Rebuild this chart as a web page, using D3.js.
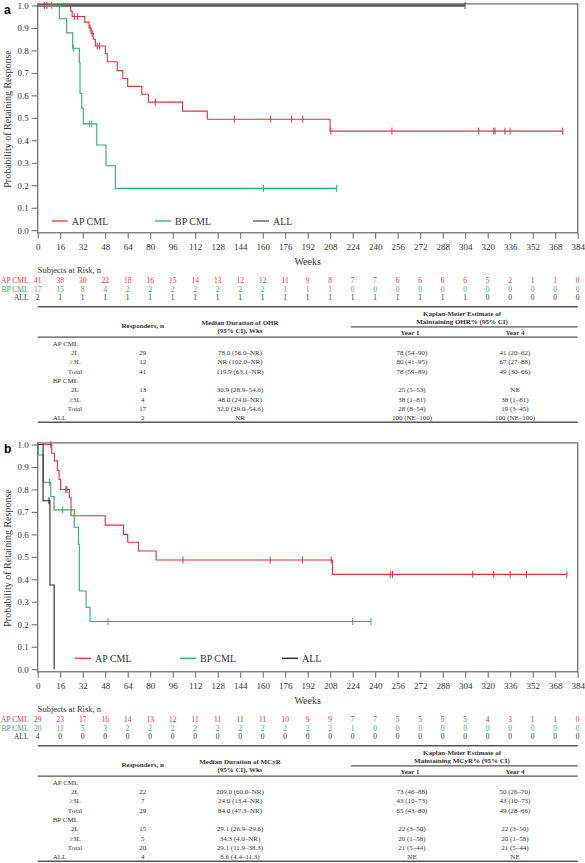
<!DOCTYPE html>
<html><head><meta charset="utf-8">
<script src="https://cdn.jsdelivr.net/npm/d3@7"></script>
<style>
html,body{margin:0;padding:0;background:#fff;}
svg{display:block;}
text{font-family:"Liberation Serif","Times New Roman",serif;}
</style></head><body>
<svg id="chart" width="585" height="863"></svg>
<script>
// ---------- shared ticks / names ----------
const weekTicks = [0,16,32,48,64,80,96,112,128,144,160,176,192,208,224,240,256,272,288,304,320,336,352,368,384];
const probTicks = [0,0.1,0.2,0.3,0.4,0.5,0.6,0.7,0.8,0.9,1.0];
const seriesNames = ["AP CML","BP CML","ALL"];
const tableRowLabels = ["AP CML","2L","\u22653L","Total","BP CML","2L","\u22653L","Total","ALL"];

// ---------- panel a (OHR) curves ----------
const aAP_time = [0,23.5,24.5,33.5,36.5,38,39.5,41,48.1,49.5,56.6,60.5,64,74,78.7,103,120.6,207.9];
const aAP_surv = [1,0.975,0.951,0.926,0.90,0.876,0.85,0.82,0.785,0.75,0.71,0.675,0.64,0.605,0.57,0.53,0.494,0.441];
const aAP_cens = [6.5,26,28.4,37.3,38.8,42.3,44,83.6,139.8,165.7,180.6,188.5,208.5,251.9,313.6,324.3,325.2,332.3,335.9,373.3];
const aBP_time = [0,15.4,20.6,24.9,29.6,30.1,31.3,32.4,42,48.6,55.2];
const aBP_surv = [1,0.941,0.878,0.81,0.746,0.609,0.543,0.473,0.379,0.287,0.186];
const aBP_cens = [10,25.3,36.7,38.4,160.5,212.6];
const aALL_time = [0];
const aALL_surv = [1];
const aALL_cens = [4.7,303.9];

// ---------- panel a risk table ----------
const aRisk_AP  = [41,38,30,22,18,16,15,14,13,12,12,11,9,8,7,7,6,6,6,6,5,2,1,1,0];
const aRisk_BP  = [17,15,8,4,2,2,2,2,2,2,2,1,1,1,0,0,0,0,0,0,0,0,0,0,0];
const aRisk_ALL = [2,1,1,1,1,1,1,1,1,1,1,1,1,1,1,1,1,1,1,1,0,0,0,0,0];

// ---------- panel a summary table ----------
const aTab_n   = ["","29","12","41","","13","4","17","2"];
const aTab_med = ["","78.0 (56.0\u2013NR)","NR (102.0\u2013NR)","119.9 (63.1\u2013NR)","","30.9 (28.9\u201354.6)","48.0 (24.0\u2013NR)","32.0 (29.0\u201354.6)","NR"];
const aTab_y1  = ["","78 (54\u201390)","80 (41\u201395)","78 (59\u201389)","","25 (5\u201353)","38 (1\u201381)","28 (8\u201354)","100 (NE\u2013100)"];
const aTab_y4  = ["","41 (20\u201362)","67 (27\u201388)","49 (30\u201366)","","NE","38 (1\u201381)","19 (3\u201345)","100 (NE\u2013100)"];

// ---------- panel b (MCyR) curves ----------
const bAP_time = [0,10,11.9,14,15.2,16.3,22.5,23.7,48,61,64,71.6,84.2,209.6];
const bAP_surv = [1,0.961,0.927,0.884,0.845,0.80,0.763,0.683,0.641,0.60,0.565,0.526,0.486,0.422];
const bAP_cens = [9.3,20,20.8,103.3,165.3,188.2,208.7,250.7,252.3,309.4,324.3,336,347.6,376.3];
const bBP_time = [0,0.5,4,9.3,11.6,26,29,29.6,34.4,37.2];
const bBP_surv = [1,0.953,0.832,0.768,0.709,0.632,0.556,0.348,0.276,0.212];
const bBP_cens = [8.3,17.8,50,224,237];
const bALL_time = [0,3.8,8.7,11.7];
const bALL_surv = [1,0.75,0.375,0];
const bALL_cens = [8.0];

// ---------- panel b risk table ----------
const bRisk_AP  = [29,23,17,16,14,13,12,11,11,11,11,10,9,9,7,7,5,5,5,5,4,3,1,1,0];
const bRisk_BP  = [20,11,5,3,2,2,2,2,2,2,2,2,2,2,1,0,0,0,0,0,0,0,0,0,0];
const bRisk_ALL = [4,0,0,0,0,0,0,0,0,0,0,0,0,0,0,0,0,0,0,0,0,0,0,0,0];

// ---------- panel b summary table ----------
const bTab_n   = ["","22","7","29","","15","5","20","4"];
const bTab_med = ["","209.0 (60.0\u2013NR)","24.0 (13.4\u2013NR)","84.0 (47.3\u2013NR)","","29.1 (26.9\u201329.6)","34.3 (4.0\u2013NR)","29.1 (11.9\u201338.3)","8.6 (4.4\u201311.3)"];
const bTab_y1  = ["","73 (46\u201388)","43 (10\u201373)","65 (43\u201380)","","22 (3\u201350)","20 (1\u201358)","21 (5\u201344)","NE"];
const bTab_y4  = ["","50 (26\u201370)","43 (10\u201373)","49 (28\u201366)","","22 (3\u201350)","20 (1\u201358)","21 (5\u201344)","NE"];

// ---------- styles ----------
const colAP = "#d93542", colBP = "#3aa866";
const frameCol = "#666";

const svg = d3.select("#chart");
const x = d3.scaleLinear().domain([0,384]).range([37.7,577.7]);

function stepValue(times, surv, t){
  let v = surv[0];
  for(let i=0;i<times.length;i++){ if(times[i] <= t) v = surv[i]; }
  return v;
}

function drawPanel(cfg){
  const oy = cfg.oy;
  const g = svg.append("g");
  const y = d3.scaleLinear().domain([0,1]).range([230.2+oy, 5.5+oy]);
  const frameTop = y(1)-1.6, frameBot = y(0)+2.6;

  // panel letter
  g.append("text").attr("x",4).attr("y",13.5+oy)
    .style("font-family","'Liberation Sans',Arial,sans-serif").style("font-weight","bold")
    .style("font-size","12px").text(cfg.letter);

  // frame
  g.append("rect").attr("x",x(0)).attr("y",frameTop)
    .attr("width",x(384)-x(0)).attr("height",frameBot-frameTop)
    .attr("fill","none").attr("stroke",frameCol).attr("stroke-width",1.2);

  // y axis
  const ya = g.append("g").attr("transform",`translate(${x(0)},0)`)
    .call(d3.axisLeft(y).tickValues(probTicks).tickFormat(d3.format(".1f")).tickSize(6).tickPadding(3));
  ya.select(".domain").remove();
  ya.selectAll("line").attr("stroke",frameCol);
  ya.selectAll("text").style("font-size","9px").style("font-family","'Liberation Serif',serif").attr("fill","#333");

  // x axis
  const xa = g.append("g").attr("transform",`translate(0,${frameBot})`)
    .call(d3.axisBottom(x).tickValues(weekTicks).tickSize(6).tickPadding(5));
  xa.select(".domain").remove();
  xa.selectAll("line").attr("stroke",frameCol);
  xa.selectAll("text").style("font-size","9px").style("font-family","'Liberation Serif',serif").attr("fill","#333");

  // axis titles
  g.append("text").attr("x",(x(0)+x(384))/2).attr("y",264.5+oy).attr("text-anchor","middle")
    .style("font-size","10px").attr("fill","#333").text("Weeks");
  g.append("text").attr("transform",`translate(11,${119+oy}) rotate(-90)`).attr("text-anchor","middle")
    .style("font-size","10px").attr("fill","#333").text("Probability of Retaining Response");

  // curves
  const line = d3.line().x(d=>x(d[0])).y(d=>y(d[1])).curve(d3.curveStepAfter);
  cfg.series.forEach(s=>{
    const end = Math.max(d3.max(s.cens), d3.max(s.time));
    const pts = s.time.map((t,i)=>[t,s.surv[i]]);
    pts.push([end, s.surv[s.surv.length-1]]);
    g.append("path").datum(pts).attr("d",line).attr("fill","none")
      .attr("stroke",s.color).attr("stroke-width",s.width);
    g.selectAll(null).data(s.cens).enter().append("line")
      .attr("x1",d=>x(d)).attr("x2",d=>x(d))
      .attr("y1",d=>y(stepValue(s.time,s.surv,d))-3.5)
      .attr("y2",d=>y(stepValue(s.time,s.surv,d))+3.5)
      .attr("stroke",s.color).attr("stroke-width",1);
  });

  // legend
  cfg.legend.forEach((L,i)=>{
    const s = cfg.series.find(d=>d.name===L.name);
    g.append("line").attr("x1",L.x).attr("x2",L.x+16).attr("y1",L.y+oy).attr("y2",L.y+oy)
      .attr("stroke",s.color).attr("stroke-width",1.3);
    g.append("text").attr("x",L.x+20).attr("y",L.y+oy).attr("dy","0.35em")
      .style("font-size","10px").attr("fill","#333").text(L.name);
  });

  // subjects at risk
  g.append("text").attr("x",x(0)).attr("y",273+oy).style("font-size","8.5px").attr("fill","#333")
    .text("Subjects at Risk, n");
  const riskY = [280.4,289.1,297.8];
  cfg.risk.forEach((r,j)=>{
    g.append("text").attr("x",28.5).attr("y",riskY[j]+oy).attr("dy","0.35em").attr("text-anchor","end")
      .style("font-size","7.5px").attr("fill",r.color).text(r.name);
    g.selectAll(null).data(r.values).enter().append("text")
      .attr("x",(d,i)=>x(weekTicks[i])).attr("y",riskY[j]+oy).attr("dy","0.35em")
      .attr("text-anchor","middle").style("font-size","7.5px").attr("fill",r.color).text(d=>d);
  });

  // summary table
  const L0 = x(0), L1 = x(384);
  const hl = (yy,x0,x1,w)=> g.append("line").attr("x1",x0).attr("x2",x1).attr("y1",yy+oy).attr("y2",yy+oy)
      .attr("stroke","#555").attr("stroke-width",w);
  hl(306.8,L0,L1,1.6);
  hl(326.8,351,L1,1.2);
  hl(337.2,L0,L1,1.2);
  hl(422.2,L0,L1,1.6);
  const t = (xx,yy,s,anchor,bold)=> g.append("text").attr("x",xx).attr("y",yy+oy).attr("dy","0.35em")
      .attr("text-anchor",anchor).style("font-size","7px").style("font-weight",bold?"bold":"normal")
      .attr("fill","#333").text(s);
  t(142.7,326,"Responders, n","middle",true);
  t(240,322.7,cfg.medHead,"middle",true);
  t(240,331,"(95% CI), Wks","middle",true);
  t(462,313.7,"Kaplan-Meier Estimate of","middle",true);
  t(462,321.3,cfg.kmHead,"middle",true);
  t(410,332.6,"Year 1","middle",true);
  t(515,332.6,"Year 4","middle",true);
  tableRowLabels.forEach((lab,i)=>{
    const yy = 343.4 + i*9.3;
    const isGroup = seriesNames.includes(lab);
    t(isGroup?52.7:75, yy, lab, isGroup?"start":"middle", false);
    t(142.7, yy, cfg.tab.n[i], "middle", false);
    t(240, yy, cfg.tab.med[i], "middle", false);
    t(412, yy, cfg.tab.y1[i], "middle", false);
    t(515, yy, cfg.tab.y4[i], "middle", false);
  });
}

drawPanel({
  oy:0, letter:"a",
  medHead:"Median Duration of OHR", kmHead:"Maintaining OHR% (95% CI)",
  series:[
    {name:"ALL", time:aALL_time, surv:aALL_surv, cens:aALL_cens, color:"#555", width:2.4},
    {name:"AP CML", time:aAP_time, surv:aAP_surv, cens:aAP_cens, color:colAP, width:1.1},
    {name:"BP CML", time:aBP_time, surv:aBP_surv, cens:aBP_cens, color:colBP, width:1.1}
  ],
  legend:[{name:"AP CML",x:51.7,y:221},{name:"BP CML",x:155,y:221},{name:"ALL",x:253,y:221}],
  risk:[{name:"AP CML",values:aRisk_AP,color:colAP},{name:"BP CML",values:aRisk_BP,color:colBP},{name:"ALL",values:aRisk_ALL,color:"#333"}],
  tab:{n:aTab_n, med:aTab_med, y1:aTab_y1, y4:aTab_y4}
});

drawPanel({
  oy:439, letter:"b",
  medHead:"Median Duration of MCyR", kmHead:"Maintaining MCyR% (95% CI)",
  series:[
    {name:"AP CML", time:bAP_time, surv:bAP_surv, cens:bAP_cens, color:colAP, width:1.1},
    {name:"BP CML", time:bBP_time, surv:bBP_surv, cens:bBP_cens, color:colBP, width:1.1},
    {name:"ALL", time:bALL_time, surv:bALL_surv, cens:bALL_cens, color:"#222", width:1.1}
  ],
  legend:[{name:"AP CML",x:75,y:219.3},{name:"BP CML",x:180,y:219.3},{name:"ALL",x:282,y:219.3}],
  risk:[{name:"AP CML",values:bRisk_AP,color:colAP},{name:"BP CML",values:bRisk_BP,color:colBP},{name:"ALL",values:bRisk_ALL,color:"#333"}],
  tab:{n:bTab_n, med:bTab_med, y1:bTab_y1, y4:bTab_y4}
});
</script>
</body></html>
